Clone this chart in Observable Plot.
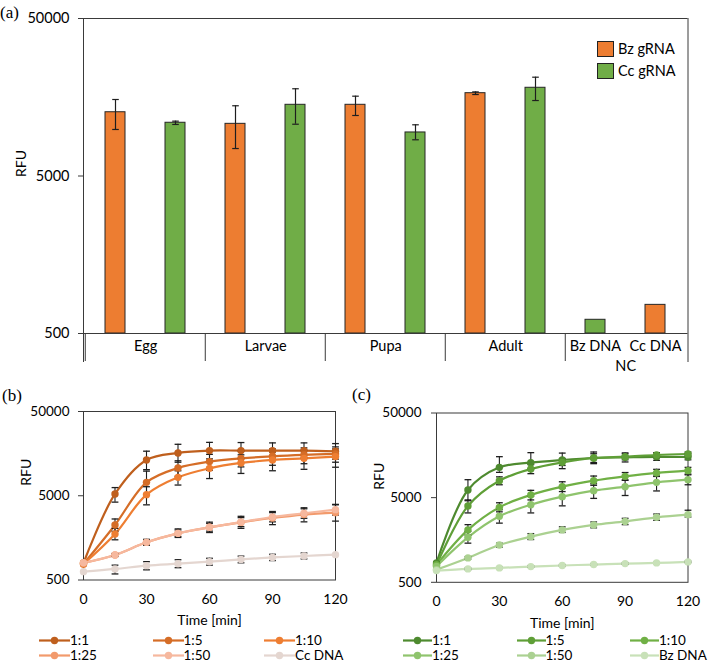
<!DOCTYPE html>
<html>
<head>
<meta charset="utf-8">
<script src="https://cdn.jsdelivr.net/npm/d3@7"></script>
<script src="https://cdn.jsdelivr.net/npm/@observablehq/plot@0.6"></script>
<style>
  html, body { margin: 0; padding: 0; background: #fff; }
  #root { position: relative; width: 709px; height: 663px; overflow: hidden; font-family: Lato, "Open Sans", sans-serif; color: #000; }
  .tag { position: absolute; font-family: "Liberation Serif", "DejaVu Serif", serif; font-size: 17px; line-height: 1; }
  .leg { position: absolute; display: flex; align-items: center; font-size: 13.5px; line-height: 13px; height: 13px; white-space: nowrap; }
  .leg svg { display: block; }
  .sq { width: 15px; height: 14px; border: 1px solid #222; margin-right: 4px; }
  .legA { position: absolute; display: flex; align-items: center; font-size: 14.5px; line-height: 16px; white-space: nowrap; }
</style>
</head>
<body>
<div id="root"></div>
<script>
// ---------------- Panel (a) data ----------------
const stages = ["Egg", "Larvae", "Pupa", "Adult"];
const gRNAs = ["Bz gRNA", "Cc gRNA"];
const bzGRNA = [12700, 10720, 14160, 16780];
const bzGRNALow = [9870, 7470, 12110, 16450];
const bzGRNAHigh = [15300, 13960, 16060, 17100];
const ccGRNA = [10890, 14160, 9450, 18160];
const ccGRNALow = [10620, 10660, 8490, 15070];
const ccGRNAHigh = [11150, 17900, 10570, 21200];
const ncGroup = "NC";
const ncTargets = ["Bz DNA", "Cc DNA"];
const ncGuides = ["Cc gRNA", "Bz gRNA"];
const ncValues = [611, 760];
const rfuTicks = [500, 5000, 50000];

// ---------------- Panels (b), (c) data ----------------
const times = [0, 15, 30, 45, 60, 75, 90, 105, 120];
const timeTicks = [0, 30, 60, 90, 120];
const seriesB = ["1:1", "1:5", "1:10", "1:25", "1:50", "Cc DNA"];
const seriesC = ["1:1", "1:5", "1:10", "1:25", "1:50", "Bz DNA"];

// (b) Bz gRNA dilutions
const b_1_1  = [796, 5250, 13300, 16100, 17170, 17170, 17170, 17170, 16860];
const b_1_1_lo = [760, 4200, 10200, 12500, 13700, 13800, 14000, 14000, 13600];
const b_1_1_hi = [830, 6250, 16900, 20400, 21500, 21400, 21200, 21200, 20800];
const b_1_5  = [775, 2250, 7210, 10690, 12710, 13900, 14690, 15270, 15680];
const b_1_5_lo = [745, 1890, 5200, 8500, 10000, 11000, 11500, 12000, 12500];
const b_1_5_hi = [805, 2650, 9800, 13000, 15500, 17000, 18000, 18500, 19000];
const b_1_10 = [775, 1760, 5150, 8270, 10580, 12250, 13310, 13900, 14570];
const b_1_10_lo = [745, 1500, 3900, 6700, 8000, 9200, 9900, 10300, 10900];
const b_1_10_hi = [805, 2050, 6400, 9900, 13000, 15300, 16500, 17300, 18000];
const b_1_25 = [796, 991, 1400, 1790, 2110, 2415, 2720, 2985, 3150];
const b_1_25_lo = [770, 950, 1290, 1600, 1830, 2050, 2270, 2450, 2500];
const b_1_25_hi = [820, 1030, 1520, 2020, 2430, 2850, 3250, 3600, 3950];
const b_1_50 = [800, 991, 1400, 1790, 2110, 2440, 2800, 3100, 3420];
const b_1_50_lo = [775, 955, 1310, 1640, 1900, 2150, 2450, 2700, 2950];
const b_1_50_hi = [825, 1030, 1500, 1960, 2350, 2750, 3150, 3500, 3900];
const b_ccDNA = [628, 676, 740, 781, 825, 878, 927, 964, 999];
const b_ccDNA_lo = [628, 590, 660, 700, 750, 800, 850, 890, 999];
const b_ccDNA_hi = [628, 750, 825, 870, 905, 960, 1010, 1045, 999];

// (c) Cc gRNA dilutions
const c_1_1  = [847, 6160, 11400, 12940, 13930, 14710, 14960, 15170, 15100];
const c_1_1_lo = [820, 4600, 9950, 11000, 12000, 12600, 13200, 13800, 14000];
const c_1_1_hi = [875, 8150, 15240, 17000, 16800, 17300, 16900, 16800, 16500];
const c_1_5  = [802, 3990, 7930, 10900, 13060, 14710, 15240, 15960, 16400];
const c_1_5_lo = [780, 3300, 7100, 9600, 11000, 13000, 14000, 14800, 15500];
const c_1_5_hi = [825, 4700, 8800, 12300, 14500, 16500, 16500, 17000, 17300];
const c_1_10 = [802, 2080, 3840, 5380, 6740, 7930, 8920, 9790, 10420];
const c_1_10_lo = [780, 1800, 3400, 4700, 5900, 7000, 8000, 8900, 9500];
const c_1_10_hi = [825, 2400, 4350, 6100, 7700, 9000, 9900, 10800, 11400];
const c_1_25 = [772, 1700, 3010, 4130, 5140, 6050, 6740, 7580, 8150];
const c_1_25_lo = [750, 1450, 2500, 3300, 4000, 4900, 5300, 6000, 7100];
const c_1_25_hi = [795, 2000, 3600, 5200, 6500, 7300, 8100, 9000, 9300];
const c_1_50 = [706, 971, 1380, 1730, 2080, 2380, 2620, 2930, 3150];
const c_1_50_lo = [690, 940, 1300, 1600, 1940, 2200, 2400, 2700, 2950];
const c_1_50_hi = [722, 1000, 1450, 1880, 2260, 2580, 2850, 3200, 3550];
const c_bzDNA = [687, 720, 740, 766, 790, 810, 831, 847, 871];
const c_bzDNA_lo = [675, 705, 725, 750, 775, 795, 815, 832, 855];
const c_bzDNA_hi = [700, 735, 755, 782, 805, 825, 847, 862, 887];

// ---------------- styles ----------------
const inkLine = "#3a3a3a";
const errInk = "#1e1e1e";
const barColors = ["#ED7D31", "#70AD47"];
const colorsB = ["#bf5f1d", "#d56d27", "#ee7e32", "#f29a6c", "#f6b89e", "#e4d6d0"];
const colorsC = ["#4e8a2f", "#5f9f37", "#70b045", "#8fc46d", "#abd191", "#c8e1b8"];
const capSymbol = { draw(ctx, size) { const h = Math.sqrt(size / Math.PI); ctx.moveTo(-h, 0); ctx.lineTo(h, 0); } };

const root = document.getElementById("root");
function place(node, left, top) {
  node.style.position = "absolute";
  node.style.left = left + "px";
  node.style.top = top + "px";
  root.appendChild(node);
  return node;
}

// y tick marks (lines) plus explicit labels (log-scale default format would blank them)
function rfuAxis(labelDx, fontSize) {
  return [
    Plot.axisY(rfuTicks, {tickSize: 5, text: null, stroke: inkLine, label: null}),
    Plot.text(rfuTicks, {y: d => d, text: d => String(d), frameAnchor: "left", dx: labelDx, textAnchor: "end", lineAnchor: "middle", fontSize})
  ];
}

// ---------------- Panel (a) ----------------
const rowsA = stages.flatMap((s, i) => [
  {slot: `${s}|${gRNAs[0]}`, guide: gRNAs[0], v: bzGRNA[i], lo: bzGRNALow[i], hi: bzGRNAHigh[i]},
  {slot: `${s}|${gRNAs[1]}`, guide: gRNAs[1], v: ccGRNA[i], lo: ccGRNALow[i], hi: ccGRNAHigh[i]}
]);
const rowsNC = ncTargets.map((t, i) => ({slot: `${ncGroup}|${t}`, guide: ncGuides[i], v: ncValues[i], label: t}));
const allA = rowsA.concat(rowsNC);
const slots = allA.map(d => d.slot);
const groupFirstSlot = stages.map(s => `${s}|${gRNAs[0]}`).concat([`${ncGroup}|${ncTargets[0]}`]);

const wA = 709, hA = 380, mlA = 83, mrA = 21.5, mtA = 18, mbA = 19;
const stepA = (wA - mlA - mrA) / slots.length;
const baseA = rfuTicks[0];
const decadePx = (hA - mtA - mbA - 28) / 2;
const floorA = baseA / Math.pow(10, 28 / decadePx);

const plotA = Plot.plot({
  width: wA, height: hA,
  marginLeft: mlA, marginRight: mrA, marginTop: mtA, marginBottom: mbA,
  style: {fontFamily: "Lato, sans-serif", fontSize: "14px", color: "#000", background: "transparent"},
  x: {domain: slots, padding: 0, axis: null},
  y: {type: "log", domain: [floorA, rfuTicks[2]], axis: null},
  color: {domain: gRNAs, range: barColors},
  marks: [
    Plot.barY(allA, {x: "slot", y1: baseA, y2: "v", fill: "guide", stroke: "#262626", strokeWidth: 1, insetLeft: 20, insetRight: 20}),
    Plot.ruleX(rowsA, {x: "slot", y1: "lo", y2: "hi", stroke: errInk, strokeWidth: 1.2}),
    Plot.dot(rowsA, {x: "slot", y: "lo", symbol: capSymbol, r: 3.3, stroke: errInk, strokeWidth: 1.2, fill: "none"}),
    Plot.dot(rowsA, {x: "slot", y: "hi", symbol: capSymbol, r: 3.3, stroke: errInk, strokeWidth: 1.2, fill: "none"}),
    Plot.ruleY([rfuTicks[2]], {stroke: inkLine}),
    Plot.ruleY([baseA], {stroke: inkLine}),
    Plot.ruleX(groupFirstSlot, {x: d => d, y1: floorA, y2: baseA, dx: -stepA / 2, stroke: inkLine}),
    Plot.frame({anchor: "left", stroke: inkLine}),
    Plot.frame({anchor: "right", stroke: inkLine}),
    ...rfuAxis(-14, 14.5),
    Plot.text(stages, {x: d => `${d}|${gRNAs[0]}`, dx: stepA / 2, frameAnchor: "bottom", dy: -15, lineAnchor: "middle", fontSize: 14.5}),
    Plot.text(rowsNC, {x: "slot", text: "label", frameAnchor: "bottom", dy: -15, lineAnchor: "middle", fontSize: 14.5}),
    Plot.text([ncGroup], {x: () => `${ncGroup}|${ncTargets[0]}`, dx: stepA / 2, frameAnchor: "bottom", dy: 5, lineAnchor: "middle", fontSize: 14.5}),
    Plot.text(["RFU"], {frameAnchor: "left", dx: -62, dy: -13, rotate: -90, lineAnchor: "middle", fontSize: 14})
  ]
});
place(plotA, 0, 0);

// legend (a)
gRNAs.forEach((g, i) => {
  const d = document.createElement("div");
  d.className = "legA";
  d.innerHTML = `<div class="sq" style="background:${barColors[i]}"></div><span>${g}</span>`;
  place(d, 597, 41 + i * 22);
});

// ---------------- Panels (b), (c) ----------------
function buildRows(names, vals, los, his) {
  const rows = [];
  names.forEach((s, k) => times.forEach((t, j) => rows.push({s, t, v: vals[k][j], lo: los[k][j], hi: his[k][j]})));
  return rows;
}
const rowsB = buildRows(seriesB,
  [b_1_1, b_1_5, b_1_10, b_1_25, b_1_50, b_ccDNA],
  [b_1_1_lo, b_1_5_lo, b_1_10_lo, b_1_25_lo, b_1_50_lo, b_ccDNA_lo],
  [b_1_1_hi, b_1_5_hi, b_1_10_hi, b_1_25_hi, b_1_50_hi, b_ccDNA_hi]);
const rowsC = buildRows(seriesC,
  [c_1_1, c_1_5, c_1_10, c_1_25, c_1_50, c_bzDNA],
  [c_1_1_lo, c_1_5_lo, c_1_10_lo, c_1_25_lo, c_1_50_lo, c_bzDNA_lo],
  [c_1_1_hi, c_1_5_hi, c_1_10_hi, c_1_25_hi, c_1_50_hi, c_bzDNA_hi]);

const hT = 244;
function timePlot(rows, names, colors, opts) {
  const errRows = rows.filter(d => d.hi - d.lo > 0);
  return Plot.plot({
    width: opts.width, height: hT,
    marginLeft: opts.ml, marginRight: opts.mr, marginTop: opts.mt, marginBottom: hT - opts.bottom,
    style: {fontFamily: "Lato, sans-serif", fontSize: "13.5px", color: "#000", background: "transparent"},
    x: {domain: [times[0], times[times.length - 1]], axis: null},
    y: {type: "log", domain: [rfuTicks[0], rfuTicks[2]], axis: null},
    color: {domain: names, range: colors},
    marks: [
      Plot.frame({stroke: inkLine}),
      ...rfuAxis(opts.tickDx, 13.5),
      Plot.axisX(timeTicks, {tickSize: 0, tickPadding: 14, label: null, fontSize: 14}),
      Plot.line(rows, {x: "t", y: "v", z: "s", stroke: "s", curve: "catmull-rom", strokeWidth: 2.2}),
      Plot.ruleX(errRows, {x: "t", y1: "lo", y2: "hi", stroke: errInk, strokeWidth: 1.1}),
      Plot.dot(errRows, {x: "t", y: "lo", symbol: capSymbol, r: 3.4, stroke: errInk, strokeWidth: 1.3, fill: "none"}),
      Plot.dot(errRows, {x: "t", y: "hi", symbol: capSymbol, r: 3.4, stroke: errInk, strokeWidth: 1.3, fill: "none"}),
      Plot.dot(rows, {x: "t", y: "v", fill: "s", r: 3.7}),
      Plot.text(["Time [min]"], {frameAnchor: "bottom", dy: 41, lineAnchor: "middle", fontSize: 14}),
      Plot.text(["RFU"], {frameAnchor: "left", dx: opts.rfuDx, dy: opts.rfuDy, rotate: -90, lineAnchor: "middle", fontSize: 14})
    ]
  });
}

const plotB = timePlot(rowsB, seriesB, colorsB, {width: 350, ml: 83, mr: 15, mt: 21, bottom: 189.5, rfuDx: -57, rfuDy: -10, tickDx: -14});
place(plotB, 0, 390);
const plotC = timePlot(rowsC, seriesC, colorsC, {width: 359, ml: 86, mr: 21.5, mt: 22.5, bottom: 191.8, rfuDx: -57, rfuDy: -8, tickDx: -15});
place(plotC, 350, 390);

function legendItem(name, color, left, top, lineW) {
  const d = document.createElement("div");
  d.className = "leg";
  const svg = d3.create("svg").attr("width", lineW).attr("height", 13);
  svg.append("line").attr("x1", 0).attr("x2", lineW).attr("y1", 6.5).attr("y2", 6.5).attr("stroke", color).attr("stroke-width", 2.2);
  svg.append("circle").attr("cx", lineW / 2).attr("cy", 6.5).attr("r", 3.7).attr("fill", color);
  d.appendChild(svg.node());
  const sp = document.createElement("span");
  sp.textContent = name;
  d.appendChild(sp);
  place(d, left, top - 6.5);
}
const legColsB = [39, 152.5, 264];
const legColsC = [403, 516.5, 630];
const legRows = [640.5, 655.5];
seriesB.forEach((s, i) => legendItem(s, colorsB[i], legColsB[i % 3], legRows[Math.floor(i / 3)], 31));
seriesC.forEach((s, i) => legendItem(s, colorsC[i], legColsC[i % 3], legRows[Math.floor(i / 3)], 29));

// panel tags
[["(a)", 0, 4], ["(b)", 2, 387], ["(c)", 352, 386]].forEach(([t, x, y]) => {
  const d = document.createElement("div");
  d.className = "tag";
  d.textContent = t;
  place(d, x, y);
});
</script>
</body>
</html>
